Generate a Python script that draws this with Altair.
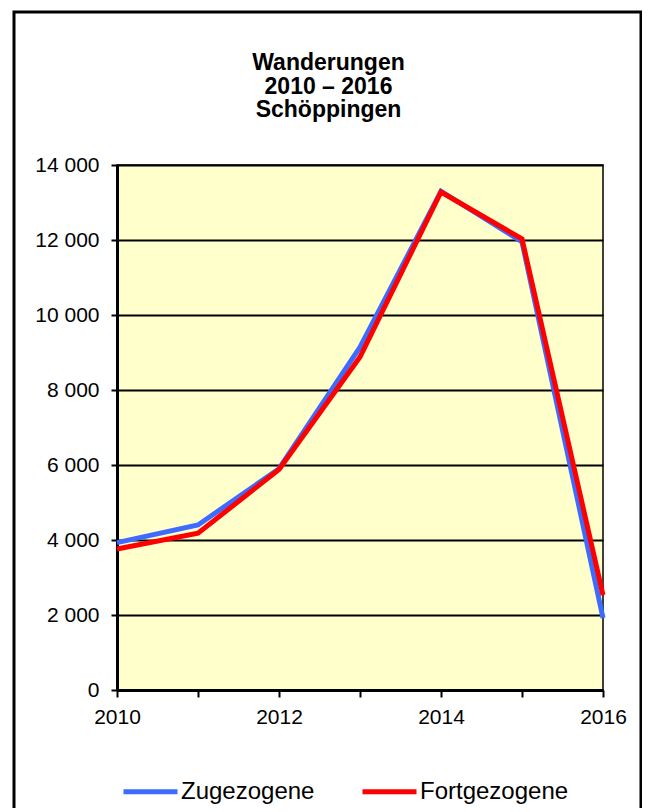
import altair as alt
import pandas as pd

years = [2010, 2011, 2012, 2013, 2014, 2015, 2016]
zugezogene = [3930, 4400, 5900, 9140, 13300, 11950, 1920]
fortgezogene = [3760, 4180, 5880, 8880, 13280, 12030, 2530]
series_names = ["Zugezogene", "Fortgezogene"]
series_colors = ["#3D6BFF", "#FF0000"]
y_ticks = [0, 2000, 4000, 6000, 8000, 10000, 12000, 14000]
title_lines = ["Wanderungen", "2010 – 2016", "Schöppingen"]

df = pd.DataFrame({
    "Jahr": years * 2,
    "Wert": zugezogene + fortgezogene,
    "Reihe": [series_names[0]] * len(years) + [series_names[1]] * len(years),
})

FONT = "Liberation Sans"
W, H = 486, 525

x_enc = alt.X("Jahr:Q",
              scale=alt.Scale(domain=[2010, 2016], nice=False, zero=False),
              axis=alt.Axis(values=years, format="d", title=None,
                            labelExpr="datum.value % 2 == 0 ? datum.label : ''",
                            grid=False, domainColor="black", domainWidth=3,
                            tickColor="black", tickWidth=2, tickSize=7,
                            labelFontSize=21, labelFont=FONT, labelColor="black",
                            labelPadding=9, labelFlush=False))
y_enc = alt.Y("Wert:Q",
              scale=alt.Scale(domain=[0, 14000], nice=False),
              axis=alt.Axis(values=y_ticks, title=None,
                            labelExpr="replace(format(datum.value, ','), ',', ' ')",
                            grid=True, gridColor="black", gridWidth=2, gridOpacity=1,
                            domainColor="black", domainWidth=3,
                            tickColor="black", tickWidth=2, tickSize=6,
                            labelFontSize=21, labelFont=FONT, labelColor="black",
                            labelPadding=12))
color_enc = alt.Color("Reihe:N",
                      scale=alt.Scale(domain=series_names, range=series_colors),
                      legend=alt.Legend(title=None, orient="none", direction="horizontal",
                                        legendX=4, legendY=597,
                                        symbolType="stroke", symbolSize=2916,
                                        symbolStrokeWidth=5, labelFontSize=24,
                                        labelFont=FONT, labelColor="black",
                                        labelOffset=1, columnPadding=37, padding=0))

one = pd.DataFrame({"k": [0]})
frame = alt.Chart(one).mark_rect(fillOpacity=0, stroke="black", strokeWidth=3).encode(
    x=alt.value(-103), x2=alt.value(524), y=alt.value(-153), y2=alt.value(700))
title = alt.Chart(one).mark_text(font=FONT, fontSize=23, fontWeight="bold", color="black",
                                 lineHeight=23.5, align="center", baseline="middle").encode(
    x=alt.value(211.5), y=alt.value(-102), text=alt.value(title_lines))

line_z = alt.Chart(df).transform_filter(alt.datum.Reihe == series_names[0]).mark_line(
    strokeWidth=5).encode(x=x_enc, y=y_enc, color=color_enc)
line_f = alt.Chart(df).transform_filter(alt.datum.Reihe == series_names[1]).mark_line(
    strokeWidth=5).encode(x=x_enc, y=y_enc, color=color_enc)

chart = alt.layer(frame, title, line_z, line_f).properties(
    width=W, height=H,
    autosize=alt.AutoSizeParams(type="none"),
    padding={"left": 109, "top": 157, "right": 39, "bottom": 118},
    background="white",
).configure_view(fill="#FFFFCC", stroke="black", strokeWidth=1.5)

chart.save("out.html", embed_options={"renderer": "svg", "actions": False})
